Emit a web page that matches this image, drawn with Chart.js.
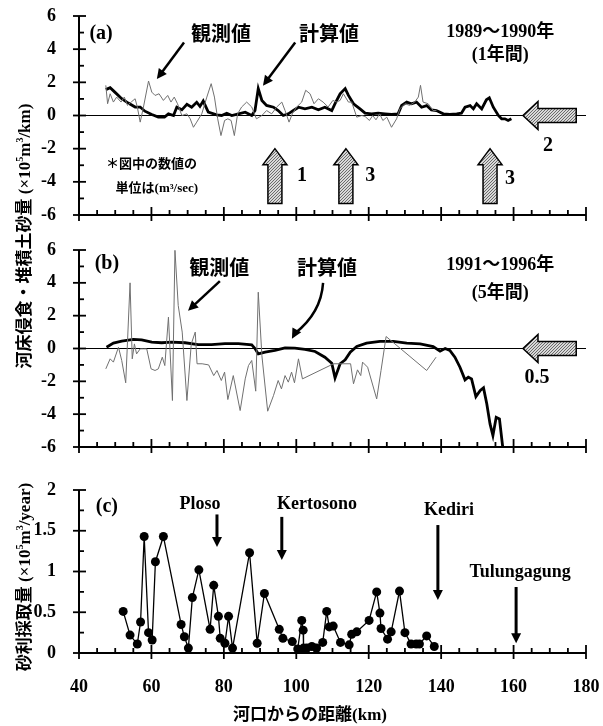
<!DOCTYPE html>
<html>
<head>
<meta charset="utf-8">
<script src="https://cdn.jsdelivr.net/npm/chart.js@4.4.0/dist/chart.umd.min.js"></script>
<style>
  body { margin: 0; background: #fff; }
  #wrap { position: relative; width: 603px; height: 726px; overflow: hidden; }
  .panel { position: absolute; left: 0; width: 603px; }
  .ttl { position: absolute; font-family: "Liberation Serif", "Noto Sans CJK JP"; font-weight: bold;
         font-size: 17px; white-space: nowrap; color: #000; }
  .ytitle { transform: translate(-50%, -50%) rotate(-90deg); }
  .xtitle { transform: translate(-50%, -50%); }
  .ttl sup { font-size: 10px; }
</style>
</head>
<body>
<div id="wrap">
  <div class="panel" style="top:0;height:230px"><canvas id="chartA"></canvas></div>
  <div class="panel" style="top:230px;height:230px"><canvas id="chartB"></canvas></div>
  <div class="panel" style="top:470px;height:256px"><canvas id="chartC"></canvas></div>
  <div class="ttl ytitle" style="left:22px;top:236px">河床侵食・堆積土砂量 (×10<sup>5</sup>m<sup>3</sup>/km)</div>
  <div class="ttl ytitle" style="left:22px;top:577px">砂利採取量 (×10<sup>5</sup>m<sup>3</sup>/year)</div>
  <div class="ttl xtitle" style="left:310px;top:712px">河口からの距離(km)</div>
</div>
<script>
// distance from river mouth (km)
const xTicks = [40, 60, 80, 100, 120, 140, 160, 180];
const yTicksAB = [-6, -4, -2, 0, 2, 4, 6];
const yTicksC = [0, 0.5, 1, 1.5, 2];

// (a) 1989-1990
const aObsKm = [47.4, 47.9, 48.6, 49.5, 50.4, 51.6, 52.5, 53.4, 54.4, 55.5,
  56.1, 56.9, 57.8, 59.2, 60.1, 61.0, 62.1, 63.3, 64.5, 65.4,
  66.3, 67.2, 68.4, 69.8, 70.7, 71.6, 72.5, 73.9, 75.3, 76.5,
  77.4, 78.3, 79.2, 80.2, 81.1, 82.0, 82.9, 83.8, 84.9, 86.3,
  87.7, 89.0, 90.5, 91.8, 93.2, 94.6, 96.0, 96.9, 98.0, 98.9,
  100.1, 101.5, 102.6, 103.8, 104.9, 106.1, 107.4, 108.8, 110.1, 111.1,
  112.1, 113.0, 114.4, 115.3, 116.7, 118.1, 119.0, 120.2, 121.1, 122.0,
  123.0, 123.9, 125.0, 126.3, 127.7, 128.6, 130.0, 131.3, 132.7, 133.7,
  134.3, 135.0, 136.4, 137.8, 138.7];
const aObsVal = [1.82, 0.71, 1.31, 0.81, 1.11, 0.81, 1.11, 0.61, 0.81, 1.01,
  0.51, -0.4, 0.51, 2.08, 1.41, 1.21, 1.31, 0.91, 1.21, 0.81,
  1.11, 0.71, 0, 0.1, -0.2, -0.71, -0.4, 0.1, 1.11, 1.92,
  1.11, -0.2, -1.21, -0.3, -0.2, -0.3, -1.21, 0.1, 0.51, 0.81,
  0.51, -0.2, 0, 0.3, 0.1, 0.51, 0.81, 0.3, -0.4, 0.1,
  0.51, 0.81, 1.52, 1.31, 0.71, 1.01, 0.81, 0.51, 0.91, 0.81,
  0.91, 1.31, 0.81, 0.81, -0.1, 0, -0.06, -0.3, 0, -0.26,
  0.1, -0.3, -0.1, -0.71, -0.2, 0.4, 0.71, 0.61, 0.81, 1.11,
  1.82, 0.81, 0.71, 0.3, 0.3];
const aCalcKm = [47.4, 48.6, 49.9, 51.8, 53.6, 55.5, 56.9, 58.2, 60.1, 61.9,
  63.6, 64.7, 66.1, 67.0, 68.4, 69.8, 71.1, 72.5, 73.4, 74.3,
  75.7, 78.0, 79.4, 80.8, 82.2, 84.0, 85.9, 87.7, 88.6, 89.5,
  90.5, 91.8, 93.7, 95.0, 96.4, 97.8, 99.2, 100.6, 102.4, 104.3,
  106.1, 107.9, 109.8, 110.7, 112.1, 113.5, 114.4, 115.8, 117.6, 119.0,
  120.8, 122.6, 124.5, 126.3, 128.1, 129.1, 130.5, 131.8, 133.2, 134.6,
  136.0, 137.3, 138.7, 140.6, 142.4, 144.3, 145.6, 146.6, 148.0, 148.9,
  149.8, 151.2, 152.5, 153.3, 154.4, 155.8, 156.7, 157.6, 158.5, 159.4];
const aCalcVal = [1.56, 1.68, 1.41, 1.01, 0.75, 0.51, 0.51, 0.26, 0.06, -0.1,
  -0.1, 0.1, 0, 0.5, 0.34, 0.67, 0.5, 0.8, 0.55, 0.87,
  0.2, 0.04, 0, 0.14, 0, 0.1, 0.2, 0, 0.3, 1.62,
  0.91, 0.61, 0.5, 0.3, 0, 0.1, 0.3, 0.5, 0.4, 0.5,
  0.34, 0.5, 0.3, 0.71, 1.31, 1.62, 1.21, 0.71, 0.4, 0.14,
  0.1, 0.14, 0.1, 0.06, 0.1, 0.6, 0.81, 0.71, 0.81, 0.5,
  0.6, 0.34, 0.3, 0.1, 0.06, 0.1, 0.14, 0.5, 0.6, 0.4,
  0.71, 0.4, 0.95, 1.07, 0.5, 0, -0.2, -0.2, -0.3, -0.2];

// (b) 1991-1996
const bObsKm = [47.4, 48.6, 49.5, 50.9, 51.8, 52.9, 54.1, 54.7, 55.3, 55.9,
  56.9, 57.8, 58.7, 59.9, 61.0, 61.9, 63.0, 63.7, 64.7, 65.8,
  66.5, 67.4, 68.5, 69.8, 71.0, 72.1, 72.6, 74.0, 75.8, 77.2,
  78.1, 79.3, 80.2, 81.1, 82.6, 84.5, 85.9, 86.8, 87.7, 88.8,
  89.5, 90.5, 92.1, 93.7, 95.0, 95.9, 96.9, 97.8, 98.7, 99.5,
  100.6, 101.7, 110.3, 115.0, 115.8, 116.9, 117.8, 118.3, 119.7, 122.2,
  123.4, 124.8, 136.0, 138.6];
const bObsVal = [-1.24, -0.63, -0.83, 0.08, -0.73, -2.09, 4.0, -0.63, 0.28, -0.33,
  -0.02, -0.02, -0.02, -1.24, -1.34, -1.24, -0.53, -1.04, 1.91, -3.17,
  5.98, 2.62, 1.0, -3.17, 0.28, 1.0, -0.93, -0.93, -1.0, -1.65,
  -1.34, -1.95, -1.44, -3.11, -1.65, -3.78, -1.85, -1.04, -0.73, -2.6,
  3.43, -0.43, -3.82, -2.87, -1.95, -2.46, -1.65, -2.05, -1.44, -2.09,
  -0.63, -1.85, -0.93, -0.93, -2.15, -1.3, -1.65, -0.83, -1.14, -3.07,
  -1.34, 0.73, -1.34, -0.53];
const bCalcKm = [47.6, 49.5, 51.8, 55.0, 57.3, 60.1, 62.8, 65.6, 69.3, 72.9,
  76.6, 80.3, 84.0, 87.7, 88.6, 89.5, 91.4, 94.1, 96.9, 99.6,
  102.4, 105.2, 107.9, 109.8, 110.7, 112.1, 113.5, 114.9, 116.7, 119.4,
  123.1, 126.8, 130.5, 134.2, 137.8, 139.7, 141.1, 142.4, 143.8, 145.2,
  146.6, 147.5, 148.4, 149.6, 150.8, 151.7, 152.6, 153.5, 154.3, 155.2,
  156.1, 157.0];
const bCalcVal = [0.08, 0.33, 0.45, 0.55, 0.53, 0.39, 0.35, 0.39, 0.35, 0.24,
  0.24, 0.3, 0.3, 0.22, 0, -0.33, -0.22, -0.12, 0.04, 0.02,
  -0.06, -0.18, -0.53, -0.9, -1.79, -0.93, -0.69, -0.22, 0.12, 0.33,
  0.43, 0.43, 0.33, 0.28, 0.12, -0.16, 0, -0.12, -0.53, -1.14,
  -1.91, -1.75, -1.85, -2.93, -2.56, -2.4, -3.37, -4.59, -5.3, -4.19,
  -4.29, -6.0];

// (c) gravel mining
const cKm = [52.2, 54.1, 56.1, 57.0, 58.0, 59.2, 60.2, 61.1, 63.3, 68.2,
  69.1, 70.2, 71.3, 73.1, 76.2, 77.2, 78.5, 79.0, 80.3, 81.3,
  82.4, 87.1, 89.2, 91.2, 95.3, 96.3, 98.9, 100.4, 101.5, 101.9,
  102.0, 102.9, 104.3, 105.6, 107.3, 108.4, 109.1, 110.2, 112.2, 114.6,
  115.3, 116.7, 120.1, 122.2, 123.1, 123.4, 125.2, 126.2, 128.5, 130.0,
  131.7, 133.1, 134.0, 136.0, 138.1];
const cVal = [0.51, 0.22, 0.11, 0.38, 1.43, 0.25, 0.16, 1.12, 1.43, 0.35,
  0.20, 0.06, 0.68, 1.02, 0.29, 0.83, 0.45, 0.18, 0.12, 0.45,
  0.06, 1.23, 0.12, 0.73, 0.29, 0.18, 0.14, 0.05, 0.40, 0.28,
  0.06, 0.06, 0.08, 0.06, 0.13, 0.51, 0.32, 0.33, 0.13, 0.10,
  0.23, 0.26, 0.40, 0.75, 0.49, 0.30, 0.17, 0.26, 0.76, 0.25,
  0.11, 0.11, 0.11, 0.21, 0.08];

const pts = (xs, ys) => xs.map((v, i) => ({ x: v, y: ys[i] }));

const SERIF = '"Liberation Serif", "Noto Sans CJK JP"';
const JP = '"Noto Sans CJK JP"';

// stippled grey used for the block arrows
const dotCanvas = document.createElement('canvas');
dotCanvas.width = 3; dotCanvas.height = 3;
(function () {
  const g = dotCanvas.getContext('2d');
  g.fillStyle = '#d8d8d8'; g.fillRect(0, 0, 3, 3);
  g.fillStyle = '#6a6a6a'; g.fillRect(0, 0, 1, 1); g.fillRect(2, 1, 1, 1); g.fillRect(1, 2, 1, 1);
})();

// axis lines + inward minor / crossing major ticks
const axesPlugin = {
  id: 'axes',
  beforeDatasetsDraw(chart, args, o) {
    if (!o.zero) return;
    const { ctx, chartArea: a, scales: { y } } = chart;
    const p = y.getPixelForValue(0);
    ctx.save();
    ctx.strokeStyle = '#000'; ctx.lineWidth = 1;
    ctx.beginPath(); ctx.moveTo(a.left, p); ctx.lineTo(a.right, p); ctx.stroke();
    ctx.restore();
  },
  afterDraw(chart, args, o) {
    const { ctx, chartArea: a, scales: { x, y } } = chart;
    ctx.save();
    ctx.strokeStyle = '#000';
    ctx.lineWidth = 2;
    ctx.beginPath();
    ctx.moveTo(a.left, a.top); ctx.lineTo(a.left, a.bottom); ctx.lineTo(a.right, a.bottom);
    ctx.stroke();
    ctx.lineWidth = 1.8;
    for (let v = 40; v <= 180; v += 5) {
      const p = x.getPixelForValue(v);
      const major = v % 20 === 0;
      ctx.beginPath();
      ctx.moveTo(p, a.bottom - (major ? 8 : 5)); ctx.lineTo(p, a.bottom + (major ? 6 : 0));
      ctx.stroke();
    }
    const n = Math.round((y.max - y.min) / o.yMinor);
    for (let i = 0; i <= n; i++) {
      const p = y.getPixelForValue(y.min + i * o.yMinor);
      const major = i % o.yEvery === 0;
      ctx.beginPath();
      ctx.moveTo(a.left - (major ? 6 : 0), p); ctx.lineTo(a.left + (major ? 7 : 5), p);
      ctx.stroke();
    }
    ctx.restore();
  }
};

// labels and arrows placed in data units
const notesPlugin = {
  id: 'notes',
  afterDraw(chart, args, o) {
    const { ctx, scales: { x, y } } = chart;
    const px = v => x.getPixelForValue(v), py = v => y.getPixelForValue(v);
    ctx.save();
    (o.items || []).forEach(it => {
      if (it.text) {
        ctx.font = it.font; ctx.fillStyle = '#000';
        ctx.textAlign = 'center'; ctx.textBaseline = 'middle';
        ctx.fillText(it.text, px(it.x), py(it.y));
      } else if (it.pointer) {
        const [x1, y1, x2, y2] = [px(it.pointer[0]), py(it.pointer[1]), px(it.pointer[2]), py(it.pointer[3])];
        const ang = Math.atan2(y2 - y1, x2 - x1);
        const hl = 10, hw = 5;
        ctx.strokeStyle = '#000'; ctx.lineWidth = it.w || 2.5;
        ctx.beginPath(); ctx.moveTo(x1, y1);
        const ex = x2 - hl * Math.cos(ang) * 0.6, ey = y2 - hl * Math.sin(ang) * 0.6;
        if (it.bend) ctx.quadraticCurveTo(x1 + it.bend[0], y1 + it.bend[1], ex, ey);
        else ctx.lineTo(ex, ey);
        ctx.stroke();
        ctx.fillStyle = '#000';
        ctx.beginPath();
        ctx.moveTo(x2, y2);
        ctx.lineTo(x2 - hl * Math.cos(ang) + hw * Math.sin(ang), y2 - hl * Math.sin(ang) - hw * Math.cos(ang));
        ctx.lineTo(x2 - hl * Math.cos(ang) - hw * Math.sin(ang), y2 - hl * Math.sin(ang) + hw * Math.cos(ang));
        ctx.closePath(); ctx.fill();
      } else if (it.up) {
        const cx = px(it.up[0]), yb = py(it.up[1]), yt = py(it.up[2]);
        const sw = 7, hw = 12, hh = 16;
        ctx.beginPath();
        ctx.moveTo(cx - sw, yb); ctx.lineTo(cx - sw, yt + hh); ctx.lineTo(cx - hw, yt + hh);
        ctx.lineTo(cx, yt); ctx.lineTo(cx + hw, yt + hh); ctx.lineTo(cx + sw, yt + hh);
        ctx.lineTo(cx + sw, yb); ctx.closePath();
        ctx.fillStyle = ctx.createPattern(dotCanvas, 'repeat'); ctx.fill();
        ctx.strokeStyle = '#000'; ctx.lineWidth = 1.5; ctx.stroke();
      } else if (it.left) {
        const xt = px(it.left[0]), xe = px(it.left[1]), cy = py(it.left[2]);
        const sh = 7, hh = 14, hl = 15;
        ctx.beginPath();
        ctx.moveTo(xe, cy - sh); ctx.lineTo(xt + hl, cy - sh); ctx.lineTo(xt + hl, cy - hh);
        ctx.lineTo(xt, cy); ctx.lineTo(xt + hl, cy + hh); ctx.lineTo(xt + hl, cy + sh);
        ctx.lineTo(xe, cy + sh); ctx.closePath();
        ctx.fillStyle = ctx.createPattern(dotCanvas, 'repeat'); ctx.fill();
        ctx.strokeStyle = '#000'; ctx.lineWidth = 1.5; ctx.stroke();
      }
    });
    ctx.restore();
  }
};

function makePanel(id, opt) {
  return new Chart(document.getElementById(id), {
    type: 'line',
    data: { datasets: opt.datasets },
    plugins: [axesPlugin, notesPlugin],
    options: {
      responsive: true,
      maintainAspectRatio: false,
      animation: false,
      layout: { padding: { top: opt.top, right: 17, left: 0, bottom: 0 } },
      plugins: {
        legend: { display: false },
        tooltip: { enabled: false },
        axes: { zero: opt.zero, yMinor: opt.yMinor, yEvery: opt.yEvery },
        notes: { items: opt.notes }
      },
      scales: {
        x: {
          type: 'linear', min: 40, max: 180,
          afterBuildTicks: s => { s.ticks = xTicks.map(v => ({ value: v })); },
          afterFit: s => { s.height = opt.xHeight; s.paddingLeft = 0; s.paddingRight = 0; },
          // invisible tick marks only push the labels down
          grid: { display: true, drawOnChartArea: false, drawTicks: true, tickLength: 22, color: 'rgba(0,0,0,0)' },
          border: { display: false },
          ticks: { display: opt.xLabels, padding: 2, color: '#000',
                   font: { family: SERIF, size: 18, weight: 'bold' } }
        },
        y: {
          min: opt.yMin, max: opt.yMax,
          afterBuildTicks: s => { s.ticks = opt.yTicks.map(v => ({ value: v })); },
          afterFit: s => { s.width = 79; s.paddingTop = 0; s.paddingBottom = 0; },
          grid: { display: false }, border: { display: false },
          ticks: { padding: 15, color: '#000', font: { family: SERIF, size: 18, weight: 'bold' },
                   callback: v => String(v) }
        }
      }
    }
  });
}

const obsStyle = { borderColor: '#707070', borderWidth: 1, pointRadius: 0, tension: 0, fill: false };
const calcStyle = { borderColor: '#000', borderWidth: 2.8, pointRadius: 0, tension: 0, fill: false };

makePanel('chartA', {
  top: 16, xHeight: 15, xLabels: false, zero: true, yMin: -6, yMax: 6, yTicks: yTicksAB, yMinor: 1, yEvery: 2,
  datasets: [
    Object.assign({ data: pts(aObsKm, aObsVal) }, obsStyle),
    Object.assign({ data: pts(aCalcKm, aCalcVal) }, calcStyle)
  ],
  notes: [
    { text: '(a)', x: 46.1, y: 4.9, font: 'bold 20px ' + SERIF },
    { text: '観測値', x: 79.2, y: 4.95, font: 'bold 20px ' + JP },
    { text: '計算値', x: 109.0, y: 4.95, font: 'bold 20px ' + JP },
    { text: '1989～1990年', x: 156.3, y: 5.0, font: 'bold 18px ' + SERIF },
    { text: '(1年間)', x: 156.3, y: 3.6, font: 'bold 18px ' + SERIF },
    { pointer: [69.0, 4.4, 61.5, 2.2] },
    { pointer: [99.7, 4.4, 90.8, 1.8] },
    { text: '＊図中の数値の', x: 60.0, y: -2.85, font: 'bold 13px ' + JP },
    { text: '単位は(m³/sec)', x: 61.5, y: -4.4, font: 'bold 13px ' + SERIF },
    { up: [94.1, -5.3, -2.0] },
    { up: [113.7, -5.3, -2.0] },
    { up: [153.5, -5.3, -2.0] },
    { text: '1', x: 101.6, y: -3.65, font: 'bold 20px ' + SERIF },
    { text: '3', x: 120.4, y: -3.65, font: 'bold 20px ' + SERIF },
    { text: '3', x: 159.0, y: -3.8, font: 'bold 20px ' + SERIF },
    { left: [162.6, 177.3, 0] },
    { text: '2', x: 169.5, y: -1.8, font: 'bold 20px ' + SERIF }
  ]
});

makePanel('chartB', {
  top: 20, xHeight: 13, xLabels: false, zero: true, yMin: -6, yMax: 6, yTicks: yTicksAB, yMinor: 1, yEvery: 2,
  datasets: [
    Object.assign({ data: pts(bObsKm, bObsVal) }, obsStyle),
    Object.assign({ data: pts(bCalcKm, bCalcVal) }, calcStyle)
  ],
  notes: [
    { text: '(b)', x: 47.7, y: 5.15, font: 'bold 20px ' + SERIF },
    { text: '観測値', x: 78.7, y: 4.95, font: 'bold 20px ' + JP },
    { text: '計算値', x: 108.5, y: 4.95, font: 'bold 20px ' + JP },
    { text: '1991～1996年', x: 156.3, y: 5.05, font: 'bold 18px ' + SERIF },
    { text: '(5年間)', x: 156.3, y: 3.35, font: 'bold 18px ' + SERIF },
    { pointer: [78.9, 4.1, 70.1, 2.3] },
    { pointer: [107.4, 4.0, 98.8, 0.6], bend: [-2, 30] },
    { left: [162.6, 177.3, 0] },
    { text: '0.5', x: 166.5, y: -1.8, font: 'bold 20px ' + SERIF }
  ]
});

makePanel('chartC', {
  top: 20, xHeight: 73, xLabels: true, zero: false, yMin: 0, yMax: 2, yTicks: yTicksC, yMinor: 0.25, yEvery: 2,
  datasets: [{
    data: pts(cKm, cVal), borderColor: '#000', borderWidth: 1.3, tension: 0, fill: false,
    pointRadius: 4.5, pointBackgroundColor: '#000', pointBorderColor: '#000', pointBorderWidth: 0
  }],
  notes: [
    { text: '(c)', x: 47.7, y: 1.79, font: 'bold 20px ' + SERIF },
    { text: 'Ploso', x: 73.4, y: 1.82, font: 'bold 18px ' + SERIF },
    { pointer: [78.1, 1.7, 78.1, 1.3], w: 3 },
    { text: 'Kertosono', x: 105.7, y: 1.82, font: 'bold 18px ' + SERIF },
    { pointer: [96.0, 1.67, 96.0, 1.14], w: 3 },
    { text: 'Kediri', x: 142.2, y: 1.75, font: 'bold 18px ' + SERIF },
    { pointer: [139.1, 1.57, 139.1, 0.65], w: 3 },
    { text: 'Tulungagung', x: 161.8, y: 0.99, font: 'bold 18px ' + SERIF },
    { pointer: [160.7, 0.81, 160.7, 0.12], w: 3 }
  ]
});
</script>
</body>
</html>
